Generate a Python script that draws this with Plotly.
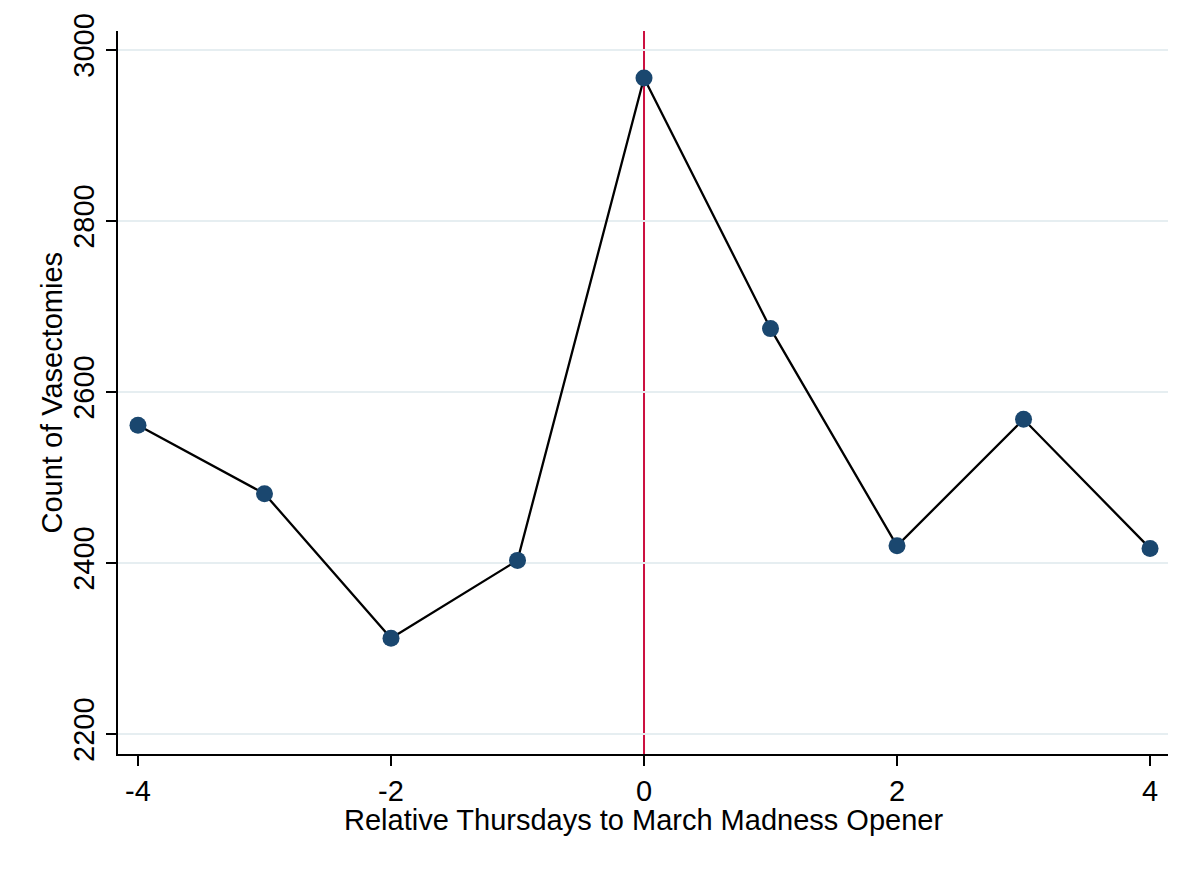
import plotly.graph_objects as go

# 数据
rel_thursday = [-4, -3, -2, -1, 0, 1, 2, 3, 4]
vasectomies = [2561, 2481, 2312, 2403, 2967, 2674, 2420, 2568, 2417]
y_ticks = [2200, 2400, 2600, 2800, 3000]
x_ticks = [-4, -2, 0, 2, 4]
x_tick_labels = ["-4", "-2", "0", "2", "4"]
x_title = "Relative Thursdays to March Madness Opener"
y_title = "Count of Vasectomies"

fig = go.Figure()

fig.add_trace(go.Scatter(
    x=rel_thursday,
    y=vasectomies,
    mode="lines+markers",
    line=dict(color="black", width=2.3),
    marker=dict(color="#1a476f", size=17),
    showlegend=False
))

# 开赛当周的竖线
fig.add_shape(type="line", x0=0, x1=0, y0=0, y1=1, xref="x", yref="paper",
              line=dict(color="#cc1040", width=2), layer="between")

# 轴标题用注释放置，位置更可控
fig.add_annotation(text=x_title, xref="paper", yref="paper", x=0.5, y=-0.0913,
                   xanchor="center", yanchor="middle", showarrow=False,
                   font=dict(size=29))
fig.add_annotation(text=y_title, xref="paper", yref="paper", x=-0.0629, y=0.5,
                   xanchor="center", yanchor="middle", showarrow=False,
                   textangle=-90, font=dict(size=29))

fig.update_layout(
    width=1200, height=873,
    paper_bgcolor="white", plot_bgcolor="white",
    margin=dict(l=110, r=40, t=23, b=127),
    font=dict(family="Liberation Sans, Arial, sans-serif", color="black", size=28),
)

fig.update_xaxes(
    range=[-4.158, 4.142],
    tickvals=x_ticks, ticktext=x_tick_labels,
    ticks="outside", ticklen=10, tickwidth=1.5, tickcolor="black",
    showline=True, linecolor="black", linewidth=2,
    showgrid=False, zeroline=False,
    tickfont=dict(size=29),
    automargin=False,
)

fig.update_yaxes(
    range=[2176.6, 3022],
    tickvals=y_ticks,
    tickangle=-90,
    ticks="outside", ticklen=10, tickwidth=1.5, tickcolor="black",
    showline=True, linecolor="black", linewidth=2,
    showgrid=True, gridcolor="#e6eef1", gridwidth=2,
    zeroline=False,
    tickfont=dict(size=29),
    automargin=False,
)

fig.write_html("out.html")
